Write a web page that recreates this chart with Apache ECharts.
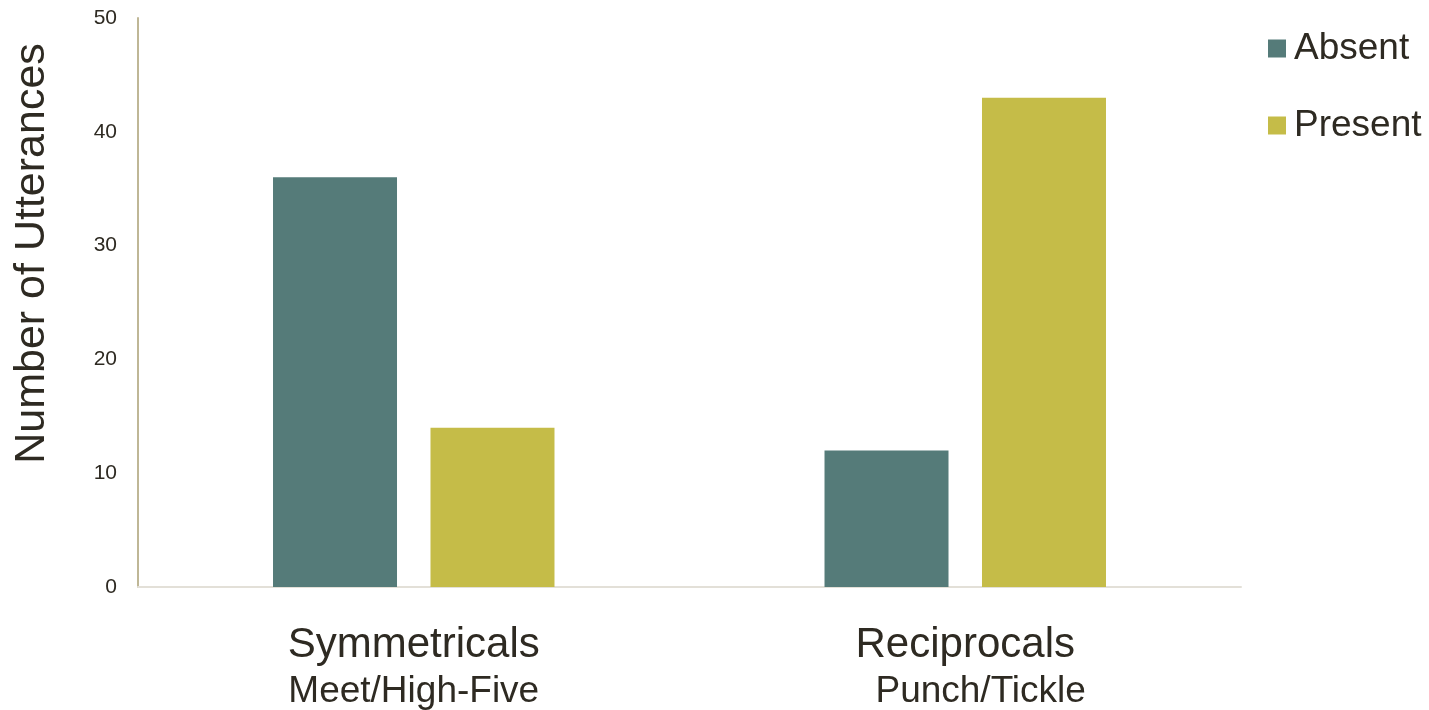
<!DOCTYPE html>
<html>
<head>
<meta charset="utf-8">
<script src="https://cdn.jsdelivr.net/npm/echarts@6/dist/echarts.min.js"></script>
<style>
  html, body { margin: 0; padding: 0; background: #fff; }
  #chart { width: 1429px; height: 710px; }
</style>
</head>
<body>
<div id="chart"></div>
<script>
var categories = ['Symmetricals', 'Reciprocals']
var subLabels = ['Meet/High-Five', '   Punch/Tickle']
var absentValues = [36, 12]
var presentValues = [14, 43]
var seriesNames = ['Absent', 'Present']

var textColor = '#2e2a22'
var font = '"Liberation Sans", Arial, sans-serif'

var myChart = echarts.init(document.getElementById('chart'))
myChart.setOption({
  animation: false,
  textStyle: { fontFamily: font },
  grid: {
    left: 138,
    right: 188,
    top: 18,
    bottom: 123,
    outerBoundsMode: 'none'
  },
  legend: {
    orient: 'vertical',
    left: 1263,
    top: 25,
    itemWidth: 18,
    itemHeight: 18,
    itemGap: 40,
    icon: 'rect',
    textStyle: { fontSize: 37, color: textColor, fontFamily: font, padding: [0, 0, 0, 3] },
    data: seriesNames
  },
  xAxis: {
    type: 'category',
    data: categories,
    axisLine: { lineStyle: { color: '#e3e0d8', width: 2 } },
    axisTick: { show: false },
    axisLabel: {
      margin: 34,
      formatter: function (value, index) {
        return '{a|' + value + '}\n{b|' + subLabels[index] + '}'
      },
      rich: {
        a: { fontSize: 42, color: textColor, fontFamily: font, lineHeight: 48 },
        b: { fontSize: 37, color: textColor, fontFamily: font, lineHeight: 46 }
      }
    }
  },
  yAxis: {
    type: 'value',
    min: 0,
    max: 50,
    interval: 10,
    name: 'Number of Utterances',
    nameLocation: 'middle',
    nameGap: 84,
    nameTextStyle: { fontSize: 43, color: textColor, fontFamily: font, padding: [0, 0, 0, 98] },
    axisLine: { show: true, lineStyle: { color: '#bfb796', width: 2 } },
    axisTick: { show: false },
    splitLine: { show: false },
    axisLabel: { fontSize: 21, color: textColor, margin: 21, padding: [4, 0, 0, 0] }
  },
  series: [
    {
      name: seriesNames[0],
      type: 'bar',
      data: absentValues,
      barWidth: 124,
      barGap: '27%',
      itemStyle: { color: '#557b79' }
    },
    {
      name: seriesNames[1],
      type: 'bar',
      data: presentValues,
      barWidth: 124,
      itemStyle: { color: '#c5bc48' }
    }
  ]
})
</script>
</body>
</html>
